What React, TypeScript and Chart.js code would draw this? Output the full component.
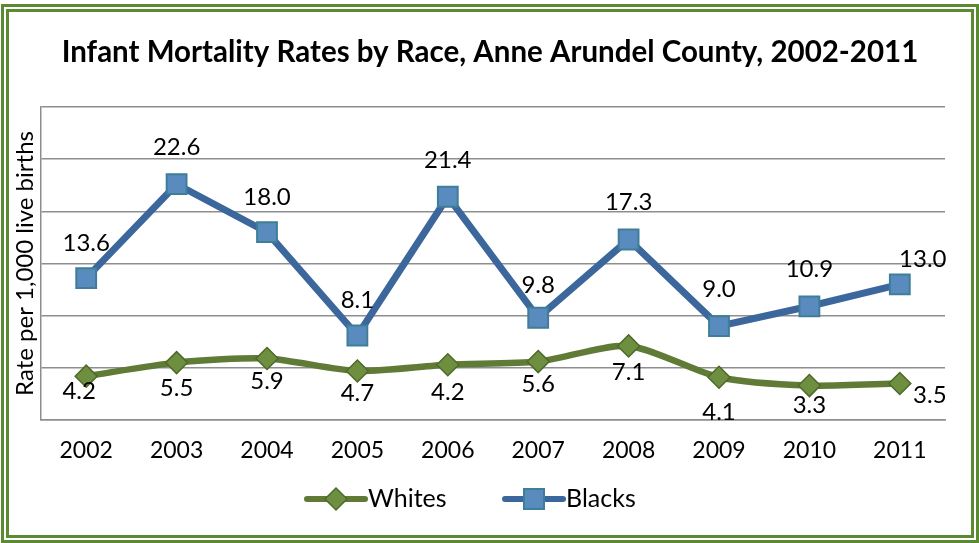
import React, { useEffect, useRef } from "react";
import { Chart, registerables } from "chart.js";

Chart.register(...registerables);

const titleText = "Infant Mortality Rates by Race, Anne Arundel County, 2002-2011";
const yAxisTitle = "Rate per 1,000 live births";
const years = ["2002", "2003", "2004", "2005", "2006", "2007", "2008", "2009", "2010", "2011"];
const whitesValues = [4.2, 5.5, 5.9, 4.7, 5.3, 5.6, 7.1, 4.1, 3.3, 3.5];
const whitesLabels = ["4.2", "5.5", "5.9", "4.7", "4.2", "5.6", "7.1", "4.1", "3.3", "3.5"];
const blacksValues = [13.6, 22.6, 18.0, 8.1, 21.4, 9.8, 17.3, 9.0, 10.9, 13.0];
const blacksLabels = ["13.6", "22.6", "18.0", "8.1", "21.4", "9.8", "17.3", "9.0", "10.9", "13.0"];
const seriesNames = ["Whites", "Blacks"];
const yMin = 0;
const yMax = 30;
const yStep = 5;

const FONT = "Lato, 'Open Sans', sans-serif";
const WHITE_LINE = "#5F7B35";
const WHITE_FILL = "#6E8F3F";
const WHITE_EDGE = "#4E6A2A";
const BLACK_LINE = "#3C679C";
const BLACK_FILL = "#5A8BBE";
const BLACK_EDGE = "#3E7E98";

// label offsets (dx, dy) relative to each point, styling only
const whiteOffsets = [[-7, 15], [0, 26], [0, 23], [0, 22], [0, 28], [0, 23], [0, 26], [0, 35], [0, 20], [30, 12]];
const blackOffsets = [[0, -35], [0, -37], [0, -35], [0, -35], [0, -36], [0, -32], [0, -37], [0, -37], [0, -37], [23, -25]];

function drawDiamond(ctx: CanvasRenderingContext2D, x: number, y: number, r: number) {
  ctx.beginPath();
  ctx.moveTo(x, y - r);
  ctx.lineTo(x + r, y);
  ctx.lineTo(x, y + r);
  ctx.lineTo(x - r, y);
  ctx.closePath();
  ctx.fillStyle = WHITE_FILL;
  ctx.fill();
  ctx.lineWidth = 1.5;
  ctx.strokeStyle = WHITE_EDGE;
  ctx.stroke();
}

function drawSquare(ctx: CanvasRenderingContext2D, x: number, y: number, half: number) {
  ctx.fillStyle = BLACK_FILL;
  ctx.fillRect(x - half, y - half, half * 2, half * 2);
  ctx.lineWidth = 2;
  ctx.strokeStyle = BLACK_EDGE;
  ctx.strokeRect(x - half, y - half, half * 2, half * 2);
}

const decorPlugin = {
  id: "decor",
  afterDatasetsDraw(chart: any) {
    const ctx: CanvasRenderingContext2D = chart.ctx;
    ctx.save();
    // title
    ctx.fillStyle = "#000";
    ctx.font = `bold 29.5px ${FONT}`;
    ctx.textAlign = "center";
    ctx.textBaseline = "middle";
    ctx.fillText(titleText, chart.width / 2, 40);

    // data labels
    ctx.font = `24px ${FONT}`;
    const sets = [
      { idx: 0, labels: whitesLabels, offs: whiteOffsets },
      { idx: 1, labels: blacksLabels, offs: blackOffsets },
    ];
    sets.forEach((s) => {
      const meta = chart.getDatasetMeta(s.idx);
      meta.data.forEach((pt: any, i: number) => {
        const [dx, dy] = s.offs[i];
        ctx.fillText(s.labels[i], pt.x + dx, pt.y + dy);
      });
    });

    // legend
    const ly = 487;
    const items = [
      { x1: 298, x2: 356, color: WHITE_LINE, text: seriesNames[0], kind: "d" },
      { x1: 496, x2: 554, color: BLACK_LINE, text: seriesNames[1], kind: "s" },
    ];
    items.forEach((it) => {
      ctx.beginPath();
      ctx.lineCap = "round";
      ctx.lineWidth = 6;
      ctx.strokeStyle = it.color;
      ctx.moveTo(it.x1, ly);
      ctx.lineTo(it.x2, ly);
      ctx.stroke();
      const cx = (it.x1 + it.x2) / 2;
      if (it.kind === "d") drawDiamond(ctx, cx, ly, 11);
      else drawSquare(ctx, cx, ly, 10);
      ctx.fillStyle = "#000";
      ctx.textAlign = "left";
      ctx.textBaseline = "middle";
      ctx.font = `25px ${FONT}`;
      ctx.fillText(it.text, it.x2 + 3, ly);
    });
    ctx.restore();
  },
};

export default function App() {
  const ref = useRef<HTMLCanvasElement | null>(null);

  useEffect(() => {
    if (!ref.current) return;
    const chart = new Chart(ref.current, {
      type: "line",
      data: {
        labels: years,
        datasets: [
          {
            label: seriesNames[0],
            data: whitesValues,
            borderColor: WHITE_LINE,
            borderWidth: 6.5,
            tension: 0.25,
            pointStyle: "rectRot",
            pointRadius: 11,
            pointHoverRadius: 11,
            pointBackgroundColor: WHITE_FILL,
            pointBorderColor: WHITE_EDGE,
            pointBorderWidth: 1.5,
          },
          {
            label: seriesNames[1],
            data: blacksValues,
            borderColor: BLACK_LINE,
            borderWidth: 7,
            tension: 0,
            pointStyle: "rect",
            pointRadius: 14,
            pointHoverRadius: 14,
            pointBackgroundColor: BLACK_FILL,
            pointBorderColor: BLACK_EDGE,
            pointBorderWidth: 2,
          },
        ],
      },
      options: {
        responsive: false,
        animation: false,
        events: [],
        layout: { padding: { top: 95, left: 0, right: 26, bottom: 65 } },
        plugins: {
          legend: { display: false },
          title: { display: false },
          tooltip: { enabled: false },
        },
        scales: {
          x: {
            offset: true,
            grid: { display: false, drawTicks: false },
            border: { display: true, color: "#8E8E8E", width: 1.5 },
            ticks: { color: "#000", font: { family: FONT, size: 23 }, padding: 17, maxRotation: 0 },
            afterFit: (s: any) => {
              s.height = 50;
            },
          },
          y: {
            min: yMin,
            max: yMax,
            ticks: { display: false, stepSize: yStep },
            grid: { color: "#8E8E8E", lineWidth: 1.5, drawTicks: false },
            border: { display: true, color: "#8E8E8E", width: 1.5 },
            title: {
              display: true,
              text: yAxisTitle,
              color: "#000",
              font: { family: FONT, size: 24 },
              padding: { top: 2, bottom: 0 },
            },
            afterFit: (s: any) => {
              s.width = 32;
            },
          },
        },
      },
      plugins: [decorPlugin],
    });
    return () => chart.destroy();
  }, []);

  return (
    <div
      style={{
        position: "absolute",
        left: 1,
        top: 4,
        width: 978,
        height: 539,
        boxSizing: "border-box",
        border: "8px double #5B8A33",
        background: "#fff",
      }}
    >
      <canvas ref={ref} width={962} height={523} style={{ display: "block", width: 962, height: 523 }} />
    </div>
  );
}
